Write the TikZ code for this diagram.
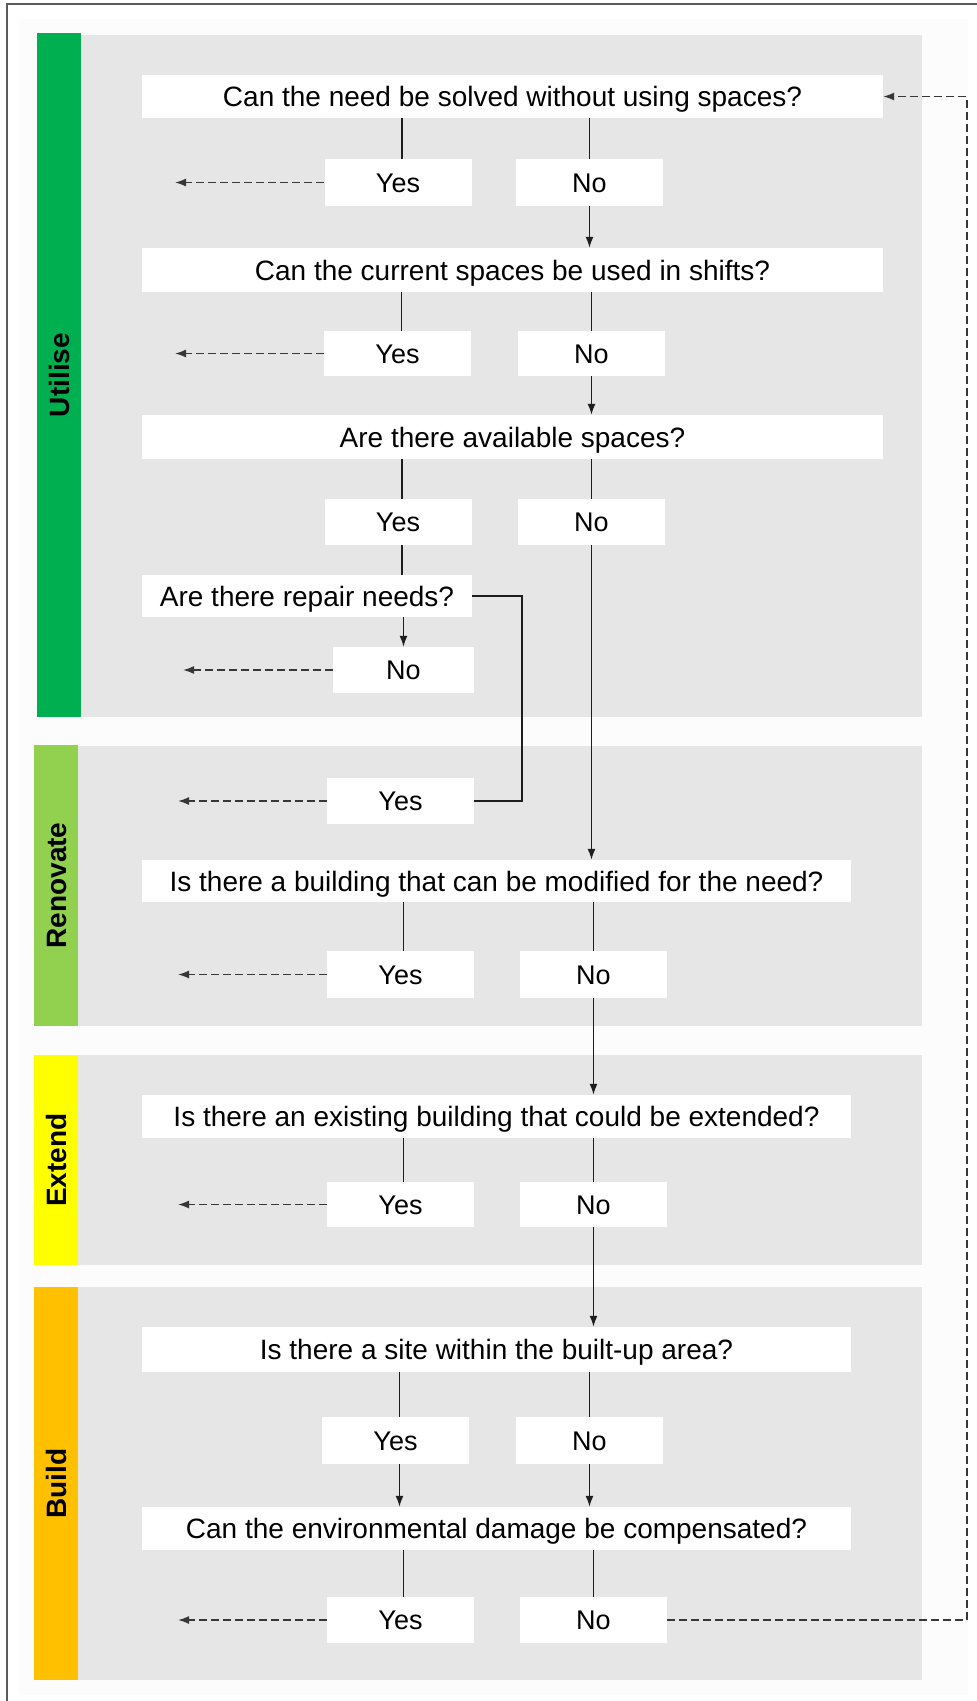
\documentclass[tikz,border=0pt]{standalone}
\usepackage{fontspec}
\setmainfont{Liberation Sans}
\usetikzlibrary{arrows.meta}
\definecolor{panel}{RGB}{231,230,230}
\definecolor{cUtil}{RGB}{0,176,80}
\definecolor{cReno}{RGB}{146,208,80}
\definecolor{cExt}{RGB}{255,255,0}
\definecolor{cBuild}{RGB}{255,192,0}
\definecolor{faint}{RGB}{253,252,252}
\definecolor{lineC}{RGB}{30,30,30}
\definecolor{dashC}{RGB}{55,55,55}
\definecolor{frameC}{RGB}{90,90,90}
\begin{document}
\begin{tikzpicture}[x=1pt,y=-1pt,
 qbox/.style={fill=white, inner sep=0pt, minimum height=43pt, text height=20pt, text depth=0pt, font=\fontsize{28}{32}\selectfont},
 abox/.style={fill=white, inner sep=0pt, minimum width=147pt, minimum height=46pt, text height=19.5pt, text depth=0pt, font=\fontsize{27}{30}\selectfont},
 lbl/.style={rotate=90, inner sep=0pt, text height=20pt, text depth=0pt, font=\bfseries\fontsize{28}{30}\selectfont},
 link/.style={draw=lineC, line width=1.6pt},
 arr/.style={link, -{Latex[length=11pt,width=8pt]}},
 darr/.style={draw=dashC, line width=1.6pt, dash pattern=on 8pt off 4pt, -{Latex[length=11pt,width=8pt]}},
]
\useasboundingbox (0,0) rectangle (977,1701);
\fill[white] (0,0) rectangle (977,1701);
\fill[faint] (19,19) rectangle (968,1695);
\draw[frameC, line width=1.5pt] (7,1701) -- (7,4) -- (977,4);

% panels and side bars
\fill[panel] (81,35) rectangle (922,717);
\fill[cUtil] (37,33) rectangle (81,717);
\fill[panel] (78,746) rectangle (922,1026);
\fill[cReno] (34,745) rectangle (78,1026);
\fill[panel] (78,1055) rectangle (922,1265);
\fill[cExt] (34,1055) rectangle (78,1265);
\fill[panel] (78,1287) rectangle (922,1680);
\fill[cBuild] (34,1287) rectangle (78,1680);

\node[lbl] (lU) at (59,375) {Utilise};
\node[lbl] (lR) at (56,885.5) {Renovate};
\node[lbl] (lE) at (56,1160) {Extend};
\node[lbl] (lB) at (56,1483.5) {Build};

% Utilise
\node[qbox, minimum width=741pt] (q1) at (512.5,96.5) {Can the need be solved without using spaces?};
\node[abox, minimum height=47pt] (y1) at (398,182.5) {Yes};
\node[abox, minimum height=47pt] (n1) at (589.5,182.5) {No};
\node[qbox, minimum width=741pt, minimum height=44pt] (q2) at (512.5,270) {Can the current spaces be used in shifts?};
\node[abox, minimum height=45pt] (y2) at (397.5,353.5) {Yes};
\node[abox, minimum height=45pt] (n2) at (591.5,353.5) {No};
\node[qbox, minimum width=741pt, minimum height=44pt] (q3) at (512.5,437) {Are there available spaces?};
\node[abox] (y3) at (398,522) {Yes};
\node[abox] (n3) at (591.5,522) {No};
\node[qbox, minimum width=330pt, minimum height=42pt] (q4) at (307,596) {Are there repair needs?};
\node[abox, minimum width=141pt] (n4) at (403.5,670) {No};

% Renovate
\node[abox] (y4) at (400.5,801) {Yes};
\node[qbox, minimum width=709pt, minimum height=42pt] (q5) at (496.5,881) {Is there a building that can be modified for the need?};
\node[abox, minimum height=47pt] (y5) at (400.5,974.5) {Yes};
\node[abox, minimum height=47pt] (n5) at (593.5,974.5) {No};

% Extend
\node[qbox, minimum width=709pt] (q6) at (496.5,1116.5) {Is there an existing building that could be extended?};
\node[abox, minimum height=45pt] (y6) at (400.5,1204.5) {Yes};
\node[abox, minimum height=45pt] (n6) at (593.5,1204.5) {No};

% Build
\node[qbox, minimum width=709pt, minimum height=45pt] (q7) at (496.5,1349.5) {Is there a site within the built-up area?};
\node[abox, minimum height=47pt] (y7) at (395.5,1440.5) {Yes};
\node[abox, minimum height=47pt] (n7) at (589.5,1440.5) {No};
\node[qbox, minimum width=709pt] (q8) at (496.5,1528.5) {Can the environmental damage be compensated?};
\node[abox] (y8) at (400.5,1620) {Yes};
\node[abox] (n8) at (593.5,1620) {No};

% free ends of dashed exits
\coordinate (d1) at (175,182.5);
\coordinate (d2) at (175,353.5);
\coordinate (d4) at (183,670);
\coordinate (d5) at (178,801);
\coordinate (d6) at (178,974.5);
\coordinate (d7) at (178,1204.5);
\coordinate (d8) at (178,1620);
\coordinate (rx) at (522,0);
\coordinate (lx) at (967,0);

% connectors
\draw[link] ([xshift=4pt]y1.north) -- ([xshift=4pt]y1.north |- q1.south);
\draw[link] (n1.north) -- (n1.north |- q1.south);
\draw[arr] (n1.south) -- (n1.south |- q2.north);
\draw[darr] (y1.west) -- (d1);

\draw[link] ([xshift=4pt]y2.north) -- ([xshift=4pt]y2.north |- q2.south);
\draw[link] (n2.north) -- (n2.north |- q2.south);
\draw[arr] (n2.south) -- (n2.south |- q3.north);
\draw[darr] (y2.west) -- (d2);

\draw[link] ([xshift=4pt]y3.north) -- ([xshift=4pt]y3.north |- q3.south);
\draw[link] (n3.north) -- (n3.north |- q3.south);
\draw[link] ([xshift=4pt]y3.south) -- ([xshift=4pt]y3.south |- q4.north);
\draw[arr] (n4.north |- q4.south) -- (n4.north);
\draw[darr] (n4.west) -- (d4);
\draw[link] (q4.east) -- (q4.east -| rx) |- (y4.east);
\draw[darr] (y4.west) -- (d5);
\draw[arr] (n3.south) -- (n3.south |- q5.north);

\draw[link] ([xshift=3pt]y5.north) -- ([xshift=3pt]y5.north |- q5.south);
\draw[link] (n5.north) -- (n5.north |- q5.south);
\draw[darr] (y5.west) -- (d6);
\draw[arr] (n5.south) -- (n5.south |- q6.north);

\draw[link] ([xshift=3pt]y6.north) -- ([xshift=3pt]y6.north |- q6.south);
\draw[link] (n6.north) -- (n6.north |- q6.south);
\draw[darr] (y6.west) -- (d7);
\draw[arr] (n6.south) -- (n6.south |- q7.north);

\draw[link] ([xshift=4pt]y7.north) -- ([xshift=4pt]y7.north |- q7.south);
\draw[link] (n7.north) -- (n7.north |- q7.south);
\draw[arr] ([xshift=4pt]y7.south) -- ([xshift=4pt]y7.south |- q8.north);
\draw[arr] (n7.south) -- (n7.south |- q8.north);

\draw[link] ([xshift=3pt]y8.north) -- ([xshift=3pt]y8.north |- q8.south);
\draw[link] (n8.north) -- (n8.north |- q8.south);
\draw[darr] (y8.west) -- (d8);
\draw[darr] (n8.east) -- (n8.east -| lx) |- (q1.east);
\end{tikzpicture}
\end{document}
